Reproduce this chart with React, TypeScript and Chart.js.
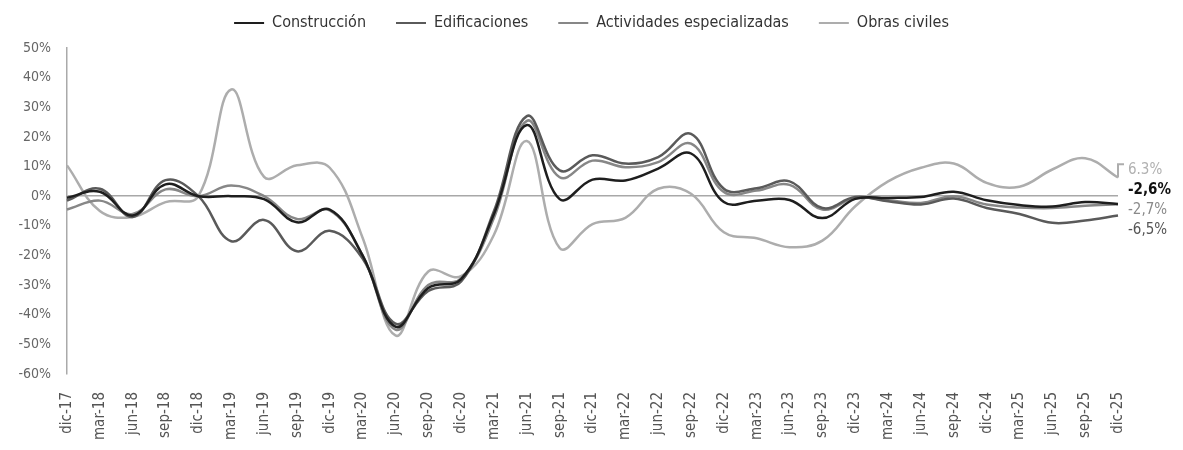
import React, { useEffect, useRef } from "react";
import { Chart, registerables } from "chart.js";

Chart.register(...registerables);

const FONT = "'DejaVu Sans Condensed', 'Liberation Sans Narrow', sans-serif";

const categories = [
  "dic-17", "mar-18", "jun-18", "sep-18", "dic-18", "mar-19", "jun-19", "sep-19",
  "dic-19", "mar-20", "jun-20", "sep-20", "dic-20", "mar-21", "jun-21", "sep-21",
  "dic-21", "mar-22", "jun-22", "sep-22", "dic-22", "mar-23", "jun-23", "sep-23",
  "dic-23", "mar-24", "jun-24", "sep-24", "dic-24", "mar-25", "jun-25", "sep-25",
  "dic-25",
];

const construccion = [
  -0.5, 1.5, -6.5, 4, 0, 0, -1, -8.8,
  -4.5, -20, -44, -31, -28, -6, 24, -1,
  5.6, 5.3, 9.3, 14.4, -2, -1.5, -1.3, -7.4,
  -0.9, -0.6, -0.3, 1.5, -1.4, -3, -3.5, -2,
  -2.6,
];

const edificaciones = [
  -1.5, 2.5, -7, 5.4, 0, -15.2, -8, -18.6,
  -11.7, -21, -43, -32, -28.8, -5, 27, 8.7,
  13.8, 11, 13.2, 21, 2.5, 2.7, 5, -4,
  -0.3, -1.7, -2.8, -0.8, -4, -6, -9, -8.2,
  -6.5,
];

const actividades = [
  -4.5, -1.5, -6, 2.3, 0, 3.6, 0, -7.7,
  -4.8, -20, -45, -30, -27.7, -7.3, 25.4, 6.4,
  12, 9.8, 11.5, 17.7, 1.4, 1.9, 3.8, -4.5,
  -0.6, -1.4, -2.3, 0, -2.8, -3.8, -4, -3.2,
  -2.7,
];

const obrasCiviles = [
  10.4, -5, -7, -2, 0, 36, 6.5, 10.4,
  9.6, -14, -47, -25.4, -27, -13, 18.6, -17.5,
  -9.4, -7.3, 2.5, 0.8, -12.2, -14.2, -17.2, -15,
  -3.4, 5, 9.6, 11, 4.5, 3.2, 9, 12.8,
  6.3,
];

const seriesNames = ["Construcción", "Edificaciones", "Actividades especializadas", "Obras civiles"];
const seriesValues = [construccion, edificaciones, actividades, obrasCiviles];
const seriesColors = ["#1e1e1e", "#5a5a5a", "#878787", "#adadad"];
const endLabels = ["-2,6%", "-6,5%", "-2,7%", "6.3%"];
const endLabelBold = [true, false, false, false];
const endLabelColors = ["#111111", "#555555", "#8a8a8a", "#b0b0b0"];
const connectorSeries = "Obras civiles";

const legendSpacingPlugin = {
  id: "legendSpacing",
  beforeInit(chart: any) {
    if (!chart.legend) return;
    const origFit = chart.legend.fit;
    chart.legend.fit = function fit() {
      origFit.call(this);
      this.height += 7;
    };
  },
  afterLayout(chart: any) {
    if (!chart.legend) return;
    chart.legend.left = 0;
    chart.legend.right = chart.width;
  },
};

const endLabelPlugin = {
  id: "endLabels",
  afterDatasetsDraw(chart: any) {
    const { ctx, chartArea } = chart;
    const items = chart.data.datasets.map((ds: any, i: number) => {
      const meta = chart.getDatasetMeta(i);
      const pt = meta.data[meta.data.length - 1];
      return { i, x: pt.x, y: pt.y, target: pt.y, pos: pt.y };
    });
    const gap = 20;
    const sorted = [...items].sort((a: any, b: any) => a.target - b.target);
    let clusters: any[] = sorted.map((it: any) => ({ members: [it], center: it.target }));
    let changed = true;
    while (changed) {
      changed = false;
      for (let k = 0; k < clusters.length - 1; k++) {
        const a = clusters[k];
        const b = clusters[k + 1];
        const aBottom = a.center + ((a.members.length - 1) * gap) / 2;
        const bTop = b.center - ((b.members.length - 1) * gap) / 2;
        if (bTop - aBottom < gap) {
          const members = [...a.members, ...b.members];
          const center = members.reduce((s: number, m: any) => s + m.target, 0) / members.length;
          clusters.splice(k, 2, { members, center });
          changed = true;
          break;
        }
      }
    }
    clusters.forEach((c) =>
      c.members.forEach((m: any, j: number) => {
        m.pos = c.center + (j - (c.members.length - 1) / 2) * gap;
      })
    );
    ctx.save();
    items.forEach((m: any) => {
      const ds = chart.data.datasets[m.i];
      if (ds.label === connectorSeries) {
        ctx.strokeStyle = seriesColors[m.i];
        ctx.lineWidth = 2;
        ctx.beginPath();
        ctx.moveTo(m.x, m.y);
        ctx.lineTo(m.x, m.pos - 6);
        ctx.lineTo(m.x + 6, m.pos - 6);
        ctx.stroke();
      }
      ctx.fillStyle = endLabelColors[m.i];
      ctx.font = `${endLabelBold[m.i] ? "bold " : ""}15px ${FONT}`;
      ctx.textAlign = "left";
      ctx.textBaseline = "middle";
      ctx.fillText(endLabels[m.i], chartArea.right + 10, m.pos);
    });
    ctx.restore();
  },
};

export default function App() {
  const canvasRef = useRef<HTMLCanvasElement | null>(null);

  useEffect(() => {
    if (!canvasRef.current) return;
    const chart = new Chart(canvasRef.current, {
      type: "line",
      data: {
        labels: categories,
        datasets: seriesNames.map((name, i) => ({
          label: name,
          data: seriesValues[i],
          borderColor: seriesColors[i],
          backgroundColor: seriesColors[i],
          borderWidth: 2.5,
          pointRadius: 0,
          tension: 0.4,
          fill: false,
        })),
      },
      options: {
        animation: false,
        responsive: true,
        maintainAspectRatio: false,
        layout: { padding: { top: -15, right: 65, bottom: 8, left: 0 } },
        plugins: {
          tooltip: { enabled: false },
          legend: {
            position: "top",
            labels: {
              font: { family: FONT, size: 16 },
              color: "#333",
              padding: 30,
              generateLabels: (chart: any) =>
                chart.data.datasets.map((ds: any, i: number) => ({
                  text: ds.label,
                  fillStyle: seriesColors[i],
                  strokeStyle: seriesColors[i],
                  lineWidth: 0,
                  hidden: false,
                  datasetIndex: i,
                  fontColor: "#333",
                })),
              boxWidth: 30,
              boxHeight: 2,
            },
          },
        },
        scales: {
          x: {
            grid: { display: false },
            border: { display: false },
            ticks: {
              autoSkip: false,
              maxRotation: 90,
              minRotation: 90,
              padding: 10,
              font: { family: FONT, size: 15 },
              color: "#555",
            },
            afterFit: (s: any) => {
              s.height = 68;
            },
          },
          y: {
            min: -60,
            max: 50,
            ticks: {
              stepSize: 10,
              padding: 16,
              font: { family: FONT, size: 14 },
              color: "#666",
              callback: (v: any) => `${v}%`,
            },
            grid: {
              drawTicks: false,
              color: (c: any) => (c.tick && c.tick.value === 0 ? "#a8a8a8" : "rgba(0,0,0,0)"),
              lineWidth: 1.5,
            },
            border: { display: true, color: "#aaaaaa", width: 1.5 },
            afterFit: (s: any) => {
              s.width = 67;
            },
          },
        },
      },
      plugins: [legendSpacingPlugin, endLabelPlugin],
    });
    return () => chart.destroy();
  }, []);

  return (
    <div style={{ position: "fixed", left: 0, top: 0, width: 1183, height: 450, background: "#fff" }}>
      <canvas ref={canvasRef} />
    </div>
  );
}
